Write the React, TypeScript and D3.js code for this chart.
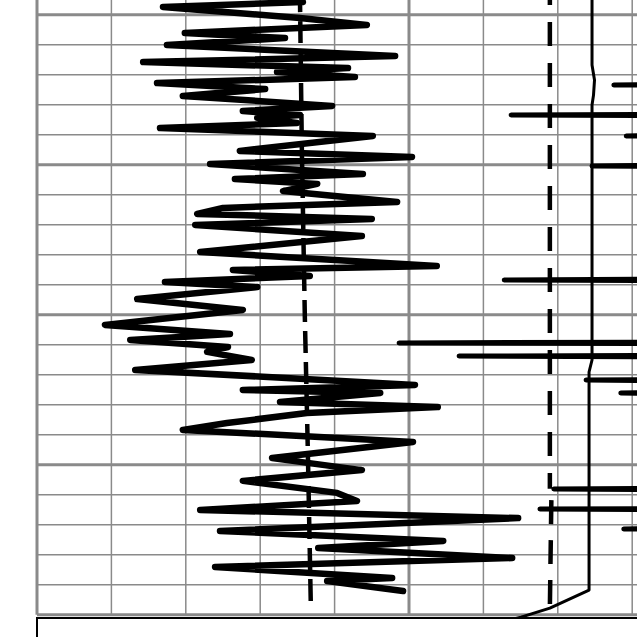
import React from 'react';
import * as d3 from 'd3';

const W = 637;
const H = 637;

// depth grid (every 10 units, heavy every 50) and value grid (every 15 units, heavy every 75)
const depthGrid = d3.range(1000, 1201, 10);
const valueGrid = d3.range(0, 151, 15);

// Main gamma-ray-like curve: [depth, value]
const grCurve: [number, number][] = [
  [991.8, 53.0], [995.8, 53.6], [997.4, 25.4], [1001.1, 53.0], [1003.4, 66.5],
  [1006.1, 29.8], [1007.8, 50.0], [1010.1, 26.2], [1013.8, 72.2], [1015.8, 21.4],
  [1017.8, 62.7], [1019.1, 48.4], [1020.8, 64.1], [1022.8, 24.2], [1024.8, 46.0],
  [1027.1, 29.4], [1030.4, 59.5], [1032.1, 41.5], [1033.4, 53.0], [1034.4, 44.4],
  [1036.1, 52.4], [1037.8, 24.8], [1040.4, 67.7], [1045.4, 40.9], [1047.4, 75.6],
  [1049.8, 34.9], [1053.1, 65.7], [1054.8, 39.9], [1056.4, 56.5], [1058.8, 49.6],
  [1062.4, 72.6], [1064.4, 37.5], [1066.4, 32.3], [1068.1, 67.5], [1070.1, 31.9],
  [1073.8, 65.5], [1079.1, 32.9], [1083.8, 80.6], [1085.1, 39.5], [1087.1, 55.0],
  [1089.1, 25.8], [1090.8, 44.4], [1094.8, 20.2], [1098.4, 41.5], [1103.4, 13.7],
  [1106.4, 38.9], [1108.4, 18.8], [1110.8, 38.5], [1112.4, 34.3], [1115.1, 43.3],
  [1118.4, 19.8], [1123.4, 76.2], [1125.1, 41.5], [1126.1, 69.2], [1129.1, 49.0],
  [1130.8, 80.8], [1132.8, 54.4], [1136.1, 38.3], [1138.4, 29.4], [1142.4, 75.8],
  [1147.8, 47.4], [1151.8, 65.5], [1155.4, 41.5], [1159.4, 60.5], [1162.1, 64.5],
  [1165.1, 32.9], [1167.8, 97.0], [1172.1, 36.9], [1175.4, 81.9], [1177.8, 56.7],
  [1181.1, 95.8], [1184.1, 35.9], [1187.8, 71.6], [1188.8, 58.5], [1192.1, 73.8],
];

// Left dashed baseline
const baselineA: [number, number][] = [
  [991.8, 53.0], [1045.1, 53.4], [1100.8, 54.0], [1145.1, 54.6], [1196.4, 55.2],
];

// Right dashed line (two segments)
const baselineB1: [number, number][] = [[991.8, 103.4], [1158.0, 103.4]];
const baselineB2: [number, number][] = [[1161.8, 103.7], [1197.8, 103.4]];

// Thin solid curve
const solidCurve: [number, number][] = [
  [991.8, 111.9], [1016.8, 111.9], [1021.8, 112.4], [1026.8, 112.2], [1030.1, 111.9],
  [1115.1, 111.9], [1119.1, 111.3], [1191.8, 111.3], [1197.8, 103.4], [1200.8, 97.6],
  [1203.4, 91.3],
];

// Curve mostly off the right edge, with spikes to the left
const spikeDepth = [1023.4, 1033.4, 1040.4, 1050.4, 1088.4, 1109.4, 1113.8, 1121.8, 1126.1, 1158.1, 1164.8, 1171.4];
const spikeValue = [116.3, 95.6, 118.8, 111.9, 94.2, 73.0, 85.1, 110.7, 117.7, 104.2, 101.4, 118.3];
const spikeBase = 140;

export default function App() {
  const x = d3.scaleLinear().domain([0, 150]).range([37, 781]);
  const y = d3.scaleLinear().domain([1000, 1200]).range([14.7, 614.7]);
  const line = d3
    .line<[number, number]>()
    .x((p) => x(p[1]))
    .y((p) => y(p[0]));

  const spikeSeries: [number, number][] = [[985, spikeBase]];
  spikeDepth.forEach((d, i) => {
    spikeSeries.push([d - 0.3, spikeBase]);
    spikeSeries.push([d, spikeValue[i]]);
    spikeSeries.push([d + 0.3, spikeBase]);
  });
  spikeSeries.push([1205, spikeBase]);

  const plotBottom = 618;
  const gridColor = '#8a8a8a';

  return (
    <svg
      width={W}
      height={H}
      style={{ position: 'absolute', left: 0, top: 0, display: 'block', background: '#fff' }}
    >
      <defs>
        <clipPath id="plotClip">
          <rect x={x(0)} y={-20} width={x(150) - x(0)} height={plotBottom + 20} />
        </clipPath>
      </defs>
      <rect x={0} y={0} width={W} height={H} fill="#fff" />
      {depthGrid.map((d) => (
        <line
          key={'h' + d}
          x1={x(0)}
          x2={x(150)}
          y1={y(d)}
          y2={y(d)}
          stroke={gridColor}
          strokeWidth={d % 50 === 0 ? 3 : 1.5}
        />
      ))}
      {valueGrid.map((v) => (
        <line
          key={'v' + v}
          x1={x(v)}
          x2={x(v)}
          y1={-5}
          y2={y(1200)}
          stroke={gridColor}
          strokeWidth={v % 75 === 0 ? 3 : 1.5}
        />
      ))}
      <g clipPath="url(#plotClip)" fill="none" stroke="#000">
        <path d={line(baselineA) || ''} strokeWidth={4.5} strokeDasharray="22,9" />
        <path d={line(baselineB1) || ''} strokeWidth={4.5} strokeDasharray="24,17" strokeDashoffset={9} />
        <path d={line(baselineB2) || ''} strokeWidth={4.5} strokeDasharray="24,16" />
        <path d={line(solidCurve) || ''} strokeWidth={3} strokeLinejoin="round" />
        <path d={line(spikeSeries) || ''} strokeWidth={5} strokeLinejoin="round" />
        <path d={line(grCurve) || ''} strokeWidth={6.5} strokeLinejoin="round" strokeLinecap="round" />
      </g>
      <rect x={x(0)} y={plotBottom} width={800} height={100} fill="#fff" stroke="#000" strokeWidth={2} />
    </svg>
  );
}
